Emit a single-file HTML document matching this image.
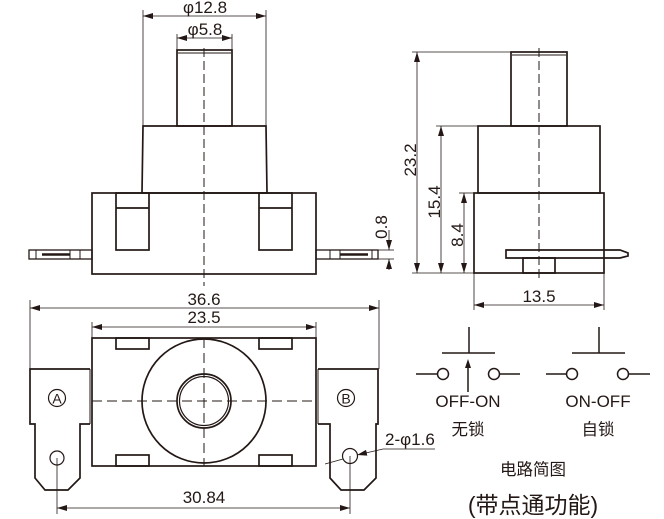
<!DOCTYPE html>
<html><head><meta charset="utf-8"><style>
html,body{margin:0;padding:0;background:#fff;}
svg{display:block;}
text{font-family:"Liberation Sans","Noto Sans CJK SC",sans-serif;fill:#231815;}
</style></head><body>
<svg width="664" height="519" viewBox="0 0 664 519" xmlns="http://www.w3.org/2000/svg">
<defs>
<marker id="a" viewBox="0 0 10 6" refX="10" refY="3" markerWidth="10" markerHeight="6" orient="auto-start-reverse" markerUnits="userSpaceOnUse"><path d="M0,0 L10,3 L0,6 z" fill="#231815"/></marker>
</defs>
<g fill="none" stroke="#231815" stroke-width="1.7">
<!-- Front view -->
<rect x="177" y="50" width="55" height="76"/>
<line x1="178" y1="53" x2="231" y2="53" stroke-width="1"/>
<path d="M143,126 L266,126 L267,193 L142,193 Z"/>
<rect x="92" y="193" width="224" height="81"/>
<rect x="116" y="193" width="33" height="57"/><line x1="116" y1="208" x2="149" y2="208"/>
<rect x="259" y="193" width="33" height="57"/><line x1="259" y1="208" x2="292" y2="208"/>
<rect x="29" y="250" width="63" height="9" stroke-width="1.3"/>
<line x1="36" y1="250" x2="36" y2="259" stroke-width="1"/><line x1="70" y1="250" x2="70" y2="259" stroke-width="1"/><line x1="80" y1="250" x2="80" y2="259" stroke-width="1"/>
<line x1="42" y1="254.5" x2="70" y2="254.5" stroke-width="2.5"/>
<rect x="316" y="250" width="62" height="9" stroke-width="1.3"/>
<line x1="330" y1="250" x2="330" y2="259" stroke-width="1"/><line x1="340" y1="250" x2="340" y2="259" stroke-width="1"/><line x1="372" y1="250" x2="372" y2="259" stroke-width="1"/>
<line x1="340" y1="254.5" x2="368" y2="254.5" stroke-width="2.5"/>
<line x1="204" y1="48" x2="204" y2="286" stroke-width="1" stroke-dasharray="9,4"/>
<g stroke-width="0.8">
<line x1="143" y1="10" x2="143" y2="126"/><line x1="266" y1="10" x2="266" y2="126"/>
<line x1="143" y1="16" x2="266" y2="16" marker-start="url(#a)" marker-end="url(#a)"/>
<line x1="177" y1="34" x2="177" y2="50"/><line x1="232" y1="34" x2="232" y2="50"/>
<line x1="177" y1="38" x2="232" y2="38" marker-start="url(#a)" marker-end="url(#a)"/>
<line x1="378" y1="250" x2="394" y2="250"/><line x1="378" y1="259" x2="394" y2="259"/>
<line x1="389" y1="230" x2="389" y2="250" marker-end="url(#a)"/>
<line x1="389" y1="270" x2="389" y2="259" marker-end="url(#a)"/>
</g>
<!-- Side view -->
<rect x="511" y="52" width="56" height="74"/>
<line x1="512" y1="55" x2="566" y2="55" stroke-width="1"/>
<rect x="478" y="126" width="122" height="67"/>
<rect x="474" y="193" width="130" height="80"/>
<path d="M506,250 L620,250 L628,253 L628,256 L620,258 L506,258 Z"/>
<rect x="523" y="258" width="32" height="15"/>
<line x1="539" y1="48" x2="539" y2="282" stroke-width="1" stroke-dasharray="9,4"/>
<g stroke-width="0.8">
<line x1="412" y1="52" x2="511" y2="52"/><line x1="412" y1="273" x2="474" y2="273"/>
<line x1="417" y1="52" x2="417" y2="273" marker-start="url(#a)" marker-end="url(#a)"/>
<line x1="436" y1="126" x2="478" y2="126"/>
<line x1="441" y1="126" x2="441" y2="273" marker-start="url(#a)" marker-end="url(#a)"/>
<line x1="459" y1="193" x2="474" y2="193"/>
<line x1="464" y1="193" x2="464" y2="273" marker-start="url(#a)" marker-end="url(#a)"/>
<line x1="474" y1="273" x2="474" y2="310"/><line x1="604" y1="273" x2="604" y2="310"/>
<line x1="474" y1="305" x2="604" y2="305" marker-start="url(#a)" marker-end="url(#a)"/>
</g>
<!-- Bottom view -->
<rect x="92" y="338" width="224" height="128"/>
<rect x="116" y="338" width="33" height="11"/><rect x="259" y="338" width="33" height="11"/>
<rect x="116" y="455" width="33" height="11"/><rect x="259" y="455" width="33" height="11"/>
<circle cx="204" cy="401" r="62"/>
<circle cx="204" cy="401" r="27"/><circle cx="204" cy="401" r="24.5" stroke-width="1.2"/>
<line x1="92" y1="401" x2="316" y2="401" stroke-width="1" stroke-dasharray="10,5"/>
<line x1="204" y1="338" x2="204" y2="466" stroke-width="1" stroke-dasharray="10,5"/>
<path d="M90,369 L30,369 L30,424 L35,424 L35,478 L45,490 L68,490 L80,478 L80,424 L90,424"/>
<path d="M318,369 L378,369 L378,424 L376,424 L376,478 L364,490 L341,490 L330,478 L330,424 L318,424"/>
<line x1="90" y1="369" x2="90" y2="424" stroke-width="1"/>
<line x1="318" y1="369" x2="318" y2="424" stroke-width="1"/>
<circle cx="57" cy="398" r="8.5" stroke-width="1.2"/>
<circle cx="346" cy="398" r="8.5" stroke-width="1.2"/>
<circle cx="57" cy="458" r="7" stroke-width="1.2"/>
<circle cx="350" cy="456" r="7.5" stroke-width="1.2"/>
<g stroke-width="0.8">
<line x1="30" y1="300" x2="30" y2="369"/><line x1="379" y1="300" x2="379" y2="369"/>
<line x1="30" y1="308" x2="379" y2="308" marker-start="url(#a)" marker-end="url(#a)"/>
<line x1="92" y1="322" x2="92" y2="338"/><line x1="316" y1="322" x2="316" y2="338"/>
<line x1="92" y1="327" x2="316" y2="327" marker-start="url(#a)" marker-end="url(#a)"/>
<line x1="57" y1="458" x2="57" y2="514"/><line x1="350" y1="456" x2="350" y2="514"/>
<line x1="57" y1="508" x2="350" y2="508" marker-start="url(#a)" marker-end="url(#a)"/>
<line x1="325" y1="464" x2="343" y2="459" />
<line x1="383" y1="449" x2="357" y2="455" marker-end="url(#a)"/>
<line x1="383" y1="449" x2="435" y2="449"/>
</g>
<!-- Circuits -->
<g stroke-width="1.5">
<line x1="469" y1="327" x2="469" y2="353"/><line x1="442" y1="353" x2="495" y2="353"/>
<circle cx="443" cy="374" r="5.5"/><circle cx="494" cy="374" r="5.5"/>
<line x1="416" y1="374" x2="437.5" y2="374"/><line x1="499.5" y1="374" x2="520" y2="374"/>
<line x1="468" y1="392" x2="468" y2="366"/>
<line x1="599" y1="327" x2="599" y2="353"/><line x1="572" y1="353" x2="625" y2="353"/>
<circle cx="572" cy="374" r="5.5"/><circle cx="623" cy="374" r="5.5"/>
<line x1="546" y1="374" x2="566.5" y2="374"/><line x1="628.5" y1="374" x2="650" y2="374"/>
</g>
<path d="M468,359 L471,368 L465,368 Z" fill="#231815" stroke="none"/>
</g>
<g font-size="17">
<text x="205" y="13" text-anchor="middle">φ12.8</text>
<text x="205" y="35" text-anchor="middle">φ5.8</text>
<text transform="translate(387,227) rotate(-90)" text-anchor="middle">0.8</text>
<text transform="translate(416,160) rotate(-90)" text-anchor="middle">23.2</text>
<text transform="translate(440,202) rotate(-90)" text-anchor="middle">15.4</text>
<text transform="translate(463,235) rotate(-90)" text-anchor="middle">8.4</text>
<text x="539" y="302" text-anchor="middle">13.5</text>
<text x="204" y="305" text-anchor="middle">36.6</text>
<text x="204" y="323" text-anchor="middle">23.5</text>
<text x="204" y="503" text-anchor="middle">30.84</text>
<text x="385" y="445">2-φ1.6</text>
<text x="57" y="403.5" text-anchor="middle" font-size="14">A</text>
<text x="346" y="403.5" text-anchor="middle" font-size="14">B</text>
<text x="468" y="407" text-anchor="middle">OFF-ON</text>
<text x="598" y="407" text-anchor="middle">ON-OFF</text>
<text x="468" y="435" text-anchor="middle" font-size="16.5">无锁</text>
<text x="598" y="435" text-anchor="middle" font-size="16.5">自锁</text>
<text x="533" y="475" text-anchor="middle" font-size="16.5">电路简图</text>
<text x="533" y="513" text-anchor="middle" font-size="23">(带点通功能)</text>
</g>
</svg>
</body></html>
